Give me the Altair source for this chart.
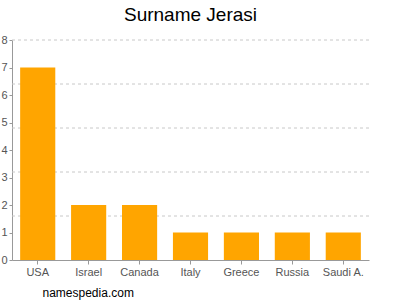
import altair as alt
import pandas as pd

countries = ["USA", "Israel", "Canada", "Italy", "Greece", "Russia", "Saudi A."]
counts = [7, 2, 2, 1, 1, 1, 1]
y_ticks = [0, 1, 2, 3, 4, 5, 6, 7, 8]
grid_levels = [1.6, 3.2, 4.8, 6.4, 8]

bars_df = pd.DataFrame({"country": countries, "count": counts})
grid_df = pd.DataFrame({"level": grid_levels})

FONT = "Liberation Sans"
y_scale = alt.Scale(domain=[0, 8], nice=False)

y_axis = alt.Axis(
    values=y_ticks,
    grid=False,
    title=None,
    labelFont=FONT,
    labelFontSize=11,
    labelColor="#555555",
    labelPadding=2,
    tickSize=3,
    tickColor="#999999",
    domainColor="#999999",
)

grid = alt.Chart(grid_df).mark_rule(
    color="#c8c8c8", strokeDash=[3, 3], strokeWidth=1
).encode(
    y=alt.Y("level:Q", scale=y_scale, axis=y_axis)
)

bars = alt.Chart(bars_df).mark_bar(color="#FFA500").encode(
    x=alt.X(
        "country:N",
        sort=countries,
        scale=alt.Scale(paddingInner=0.31, paddingOuter=0.16),
        axis=alt.Axis(
            title="namespedia.com",
            titleX=30,
            titleY=32,
            titleAlign="left",
            titleBaseline="middle",
            titleFont=FONT,
            titleFontSize=12,
            titleFontWeight="normal",
            titleColor="#000000",
            labelAngle=0,
            labelFont=FONT,
            labelFontSize=11,
            labelColor="#555555",
            labelPadding=2,
            tickSize=4,
            tickColor="#999999",
            domainColor="#999999",
        ),
    ),
    y=alt.Y("count:Q", scale=y_scale, axis=y_axis),
)

chart = alt.layer(grid, bars).properties(
    width=357,
    height=220,
    autosize="none",
    padding={"left": 12, "top": 40, "right": 31, "bottom": 40},
    title=alt.TitleParams(
        "Surname Jerasi",
        font=FONT,
        fontSize=19,
        fontWeight="normal",
        color="#000000",
        anchor="middle",
        offset=9,
    ),
).configure_view(stroke=None)

chart.save("out.html", embed_options={"renderer": "svg", "actions": False})
